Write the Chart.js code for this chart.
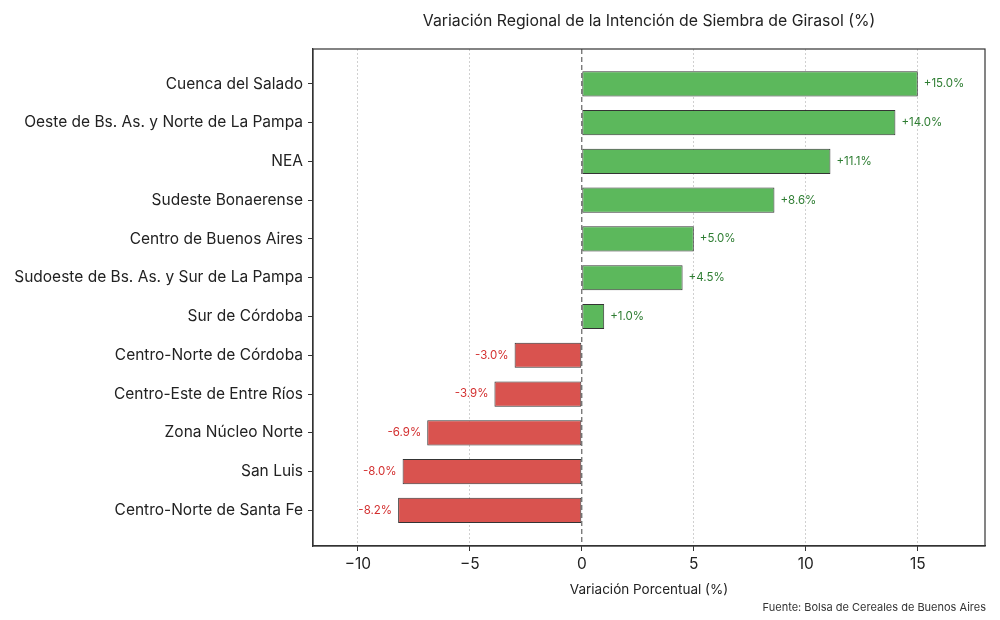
<!DOCTYPE html>
<html>
<head>
<meta charset="utf-8">
<script src="https://cdn.jsdelivr.net/npm/chart.js@4"></script>
<style>
  html, body { margin: 0; padding: 0; background: #fff; }
  #wrap { width: 1000px; height: 620px; }
</style>
</head>
<body>
<div id="wrap"><canvas id="chart"></canvas></div>
<script>
// Regions, top to bottom
const regions = [
  "Cuenca del Salado",
  "Oeste de Bs. As. y Norte de La Pampa",
  "NEA",
  "Sudeste Bonaerense",
  "Centro de Buenos Aires",
  "Sudoeste de Bs. As. y Sur de La Pampa",
  "Sur de Córdoba",
  "Centro-Norte de Córdoba",
  "Centro-Este de Entre Ríos",
  "Zona Núcleo Norte",
  "San Luis",
  "Centro-Norte de Santa Fe"
];
// Variation in sowing intention (%)
const variation = [15.0, 14.0, 11.1, 8.6, 5.0, 4.5, 1.0, -3.0, -3.9, -6.9, -8.0, -8.2];
const xTicks = [-10, -5, 0, 5, 10, 15];

const FONT = "Inter, 'Open Sans', sans-serif";
const GREEN = "#5cb85c", RED = "#d9534f";

// title, footer, frame, zero line and value labels
const extras = {
  id: "extras",
  afterDatasetsDraw(chart) {
    const { ctx, chartArea: a, scales } = chart;
    ctx.save();
    // dashed zero line
    const x0 = scales.x.getPixelForValue(0);
    ctx.strokeStyle = "#444";
    ctx.lineWidth = 1;
    ctx.setLineDash([5, 3]);
    ctx.beginPath();
    ctx.moveTo(x0, a.top);
    ctx.lineTo(x0, a.bottom);
    ctx.stroke();
    ctx.setLineDash([]);

    // value labels
    ctx.font = "11.5px " + FONT;
    ctx.textBaseline = "middle";
    chart.getDatasetMeta(0).data.forEach((bar, i) => {
      const v = variation[i];
      const txt = (v > 0 ? "+" : "") + v.toFixed(1) + "%";
      if (v >= 0) {
        ctx.fillStyle = "#2e7d32";
        ctx.textAlign = "left";
        ctx.fillText(txt, bar.x + 6, bar.y);
      } else {
        ctx.fillStyle = "#d32f2f";
        ctx.textAlign = "right";
        ctx.fillText(txt, bar.x - 6, bar.y);
      }
    });

    // frame
    ctx.strokeStyle = "#333";
    ctx.lineWidth = 1.2;
    ctx.strokeRect(a.left, a.top, a.right - a.left, a.bottom - a.top);
    ctx.restore();
  },
  afterDraw(chart) {
    const { ctx, chartArea: a } = chart;
    ctx.save();
    ctx.fillStyle = "#222";
    ctx.textBaseline = "middle";
    ctx.textAlign = "center";
    ctx.font = "15.8px " + FONT;
    ctx.fillText("Variación Regional de la Intención de Siembra de Girasol (%)", (a.left + a.right) / 2, 21);
    ctx.textAlign = "right";
    ctx.font = "11px " + FONT;
    ctx.fillStyle = "#333";
    ctx.fillText("Fuente: Bolsa de Cereales de Buenos Aires", 986, 608);
    ctx.restore();
  }
};

new Chart(document.getElementById("chart"), {
  type: "bar",
  data: {
    datasets: [{
      data: variation.map((v, i) => ({ x: v, y: i })),
      backgroundColor: variation.map(v => v >= 0 ? GREEN : RED),
      borderColor: "rgba(30,30,30,0.9)",
      borderWidth: 1,
      borderSkipped: false,
      categoryPercentage: 0.65,
      barPercentage: 1
    }]
  },
  options: {
    indexAxis: "y",
    responsive: true,
    maintainAspectRatio: false,
    animation: false,
    layout: { padding: { top: 49, right: 15, left: 0, bottom: 0 } },
    plugins: { legend: { display: false }, tooltip: { enabled: false }, title: { display: false } },
    scales: {
      x: {
        type: "linear",
        min: -12,
        max: 18,
        afterBuildTicks: s => { s.ticks = xTicks.map(v => ({ value: v })); },
        afterFit: s => { s.height = 74; },
        ticks: {
          font: { family: FONT, size: 15.5 },
          color: "#222",
          padding: 4,
          callback: v => v < 0 ? "\u2212" + Math.abs(v) : String(v)
        },
        grid: {
          color: ctx => ctx.tick && ctx.tick.value === 0 ? "rgba(0,0,0,0)" : "#d0d0d0",
          tickColor: "#333",
          tickLength: 5,
          lineWidth: 1
        },
        border: { display: true, color: "#333", width: 1.2, dash: [2, 2] },
        title: {
          display: true,
          text: "Variación Porcentual (%)",
          font: { family: FONT, size: 13.5 },
          color: "#222",
          padding: { top: 0, bottom: 22 }
        }
      },
      y: {
        type: "linear",
        reverse: true,
        offset: false,
        min: -0.9,
        max: 11.92,
        afterBuildTicks: s => { s.ticks = regions.map((r, i) => ({ value: i })); },
        afterFit: s => { s.width = 313; },
        ticks: {
          font: { family: FONT, size: 15.5 },
          color: "#222",
          padding: 5,
          callback: v => regions[v]
        },
        grid: { display: true, offset: false, drawOnChartArea: false, tickColor: "#333", tickLength: 5 },
        border: { display: true, color: "#333", width: 1.2 }
      }
    }
  },
  plugins: [extras]
});
</script>
</body>
</html>
